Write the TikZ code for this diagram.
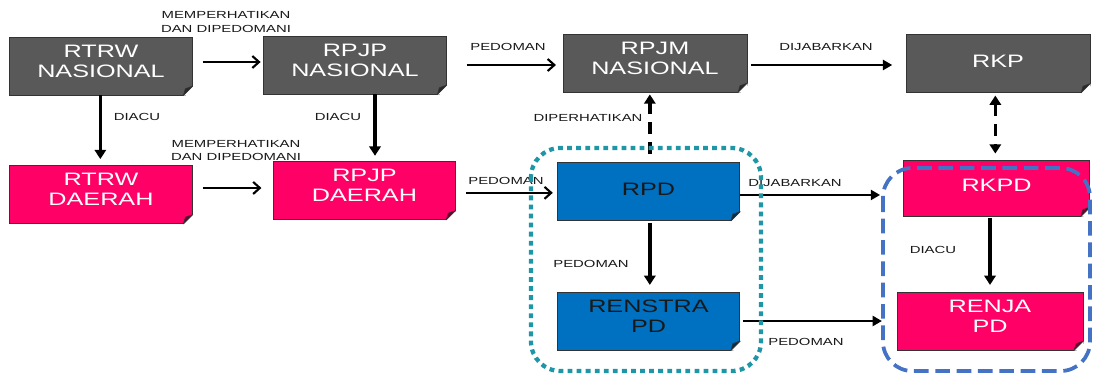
\documentclass[tikz,border=0pt]{standalone}
\usepackage{fontspec}
\usetikzlibrary{arrows.meta,calc}
\newfontfamily\boxfont[FakeStretch=1.4]{Liberation Sans}
\newfontfamily\lblfont[FakeStretch=1.45]{Liberation Sans}
\definecolor{boxgray}{HTML}{595959}
\definecolor{boxpink}{HTML}{FF0066}
\definecolor{boxblue}{HTML}{0070C0}
\definecolor{grpteal}{RGB}{30,150,165}
\definecolor{grpblue}{HTML}{4472C4}
\begin{document}
\begin{tikzpicture}[x=0.75pt,y=-0.75pt,
  docbox/.style={draw=black!80, line width=0.6pt, align=center,
    font=\boxfont\fontsize{13.5}{15}\selectfont, inner sep=0pt,
    minimum width=137pt, minimum height=43.5pt},
  twoline/.style={text depth=7.5pt},
  oneline/.style={text depth=3.5pt},
  graybox/.style={docbox, fill=boxgray, text=white},
  pinkbox/.style={docbox, fill=boxpink, text=white},
  bluebox/.style={docbox, fill=boxblue, text=black!90},
  lbl/.style={font=\lblfont\fontsize{7.7}{10}\selectfont, align=center, inner sep=0pt, text=black!90},
  harr/.style={line width=1.6pt, -{Straight Barb[length=5pt,width=9pt,line width=1.6pt]}},
  tarr/.style={line width=1.8pt, -{Triangle[length=7pt,width=7.5pt]}},
  varr/.style={line width=2.6pt, -{Triangle[length=7pt,width=8.5pt]}},
  darr/.style={line width=2.6pt, dash pattern=on 9pt off 6pt, -{Triangle[length=7pt,width=8.5pt]}},
  darr2/.style={line width=2.6pt, dash pattern=on 9pt off 6pt, {Triangle[length=7pt,width=8.5pt]}-{Triangle[length=7pt,width=8.5pt]}},
]
\useasboundingbox (0,0) rectangle (1093,375);

% boxes
\node[graybox, twoline] (rtrwn) at (101,66) {RTRW\\NASIONAL};
\node[graybox, twoline] (rpjpn) at (355,65) {RPJP\\NASIONAL};
\node[graybox, twoline, minimum width=138pt] (rpjmn) at (655,63) {RPJM\\NASIONAL};
\node[graybox, oneline, minimum width=138pt] (rkp) at (998,63.5) {RKP};
\node[pinkbox, twoline] (rtrwd) at (101,194.5) {RTRW\\DAERAH};
\node[pinkbox, twoline, minimum width=136pt] (rpjpd) at (364.5,190.5) {RPJP\\DAERAH};
\node[bluebox, oneline] (rpd) at (648.5,191.5) {RPD};
\node[bluebox, twoline] (renstra) at (648.5,321) {RENSTRA\\PD};
\node[pinkbox, oneline, minimum width=140pt, minimum height=42pt] (rkpd) at (996.5,188) {RKPD};
\node[pinkbox, twoline, minimum width=139.5pt] (renja) at (990,321) {RENJA\\PD};

% folded corners
\foreach \n/\c in {rtrwn/boxgray, rpjpn/boxgray, rpjmn/boxgray, rkp/boxgray,
                   rtrwd/boxpink, rpjpd/boxpink, rkpd/boxpink, renja/boxpink,
                   rpd/boxblue, renstra/boxblue} {
  \fill[white] ([xshift=-7pt]\n.south east) -- ([xshift=1pt,yshift=-1pt]\n.south east) -- ([yshift=7pt]\n.south east) -- cycle;
  \filldraw[fill=\c!45!black, draw=black!80, line width=0.5pt, line join=round]
    ([xshift=-7pt]\n.south east) -- ([yshift=7pt]\n.south east) -- ([xshift=-5.5pt,yshift=5pt]\n.south east) -- cycle;
}

% connectors
\draw[harr, shorten <=7.5pt, shorten >=2pt] ([yshift=3pt]rtrwn.east) -- ([yshift=3pt]rtrwn.east -| rpjpn.west);
\draw[harr, shorten <=15pt, shorten >=5pt] (rpjpn.east) -- (rpjpn.east -| rpjmn.west);
\draw[tarr, shorten <=3pt, shorten >=10pt] ([yshift=-1.5pt]rpjmn.east) -- ([yshift=-1.5pt]rpjmn.east -| rkp.west);
\draw[varr, shorten >=4.5pt] ([xshift=-0.5pt]rtrwn.south) -- ([xshift=-0.5pt]rtrwn.south |- rtrwd.north);
\draw[varr, shorten >=4pt] ([xshift=15pt]rpjpn.south) -- ([xshift=15pt]rpjpn.south |- rpjpd.north);
\draw[harr, shorten <=7.5pt, shorten >=9pt] ([yshift=4.9pt]rtrwd.east) -- ([yshift=4.9pt]rtrwd.east -| rpjpd.west);
\draw[harr, shorten <=8pt, shorten >=3pt] ([yshift=-1pt]rpd.west -| rpjpd.east) -- ([yshift=-1pt]rpd.west);
\draw[darr, shorten <=6pt, shorten >=1.5pt] ([xshift=1pt]rpd.north) -- ([xshift=1pt]rpd.north |- rpjmn.south);
\draw[darr2, shorten <=2pt, shorten >=4.5pt] ([xshift=-2pt]rkp.south) -- ([xshift=-2pt]rkp.south |- rkpd.north);
\draw[tarr, shorten >=17pt] ([yshift=-2.6pt]rpd.east) -- ([yshift=-2.6pt]rpd.east -| rkpd.west);
\draw[varr, shorten <=1.5pt, shorten >=5pt] ([xshift=1pt]rpd.south) -- ([xshift=1pt]rpd.south |- renstra.north);
\draw[varr, shorten <=1.5pt, shorten >=5pt] (rkpd.south -| renja.north) -- (renja.north);
\draw[tarr, shorten <=2pt, shorten >=11pt] (renstra.east) -- (renstra.east -| renja.west);

% labels
\node[lbl] (l1) at (226,22) {MEMPERHATIKAN\\DAN DIPEDOMANI};
\node[lbl] (l2) at (508,47) {PEDOMAN};
\node[lbl] (l3) at (826,47) {DIJABARKAN};
\node[lbl] (l4) at (137,117) {DIACU};
\node[lbl] (l5) at (338,117) {DIACU};
\node[lbl] (l6) at (236,150.5) {MEMPERHATIKAN\\DAN DIPEDOMANI};
\node[lbl] (l7) at (588,118) {DIPERHATIKAN};
\node[lbl] (l8) at (506,181) {PEDOMAN};
\node[lbl] (l9) at (795,183) {DIJABARKAN};
\node[lbl] (l10) at (591,264) {PEDOMAN};
\node[lbl] (l11) at (933,250) {DIACU};
\node[lbl] (l12) at (806,342) {PEDOMAN};

% group frames
\draw[grpteal, line width=3.2pt, dash pattern=on 3.6pt off 3.2pt, rounded corners=22pt]
  (531,148) rectangle (761,371);
\draw[grpblue, line width=2.8pt, dash pattern=on 11pt off 5pt, rounded corners=22pt]
  (883,168) rectangle (1090,371);
\end{tikzpicture}
\end{document}
